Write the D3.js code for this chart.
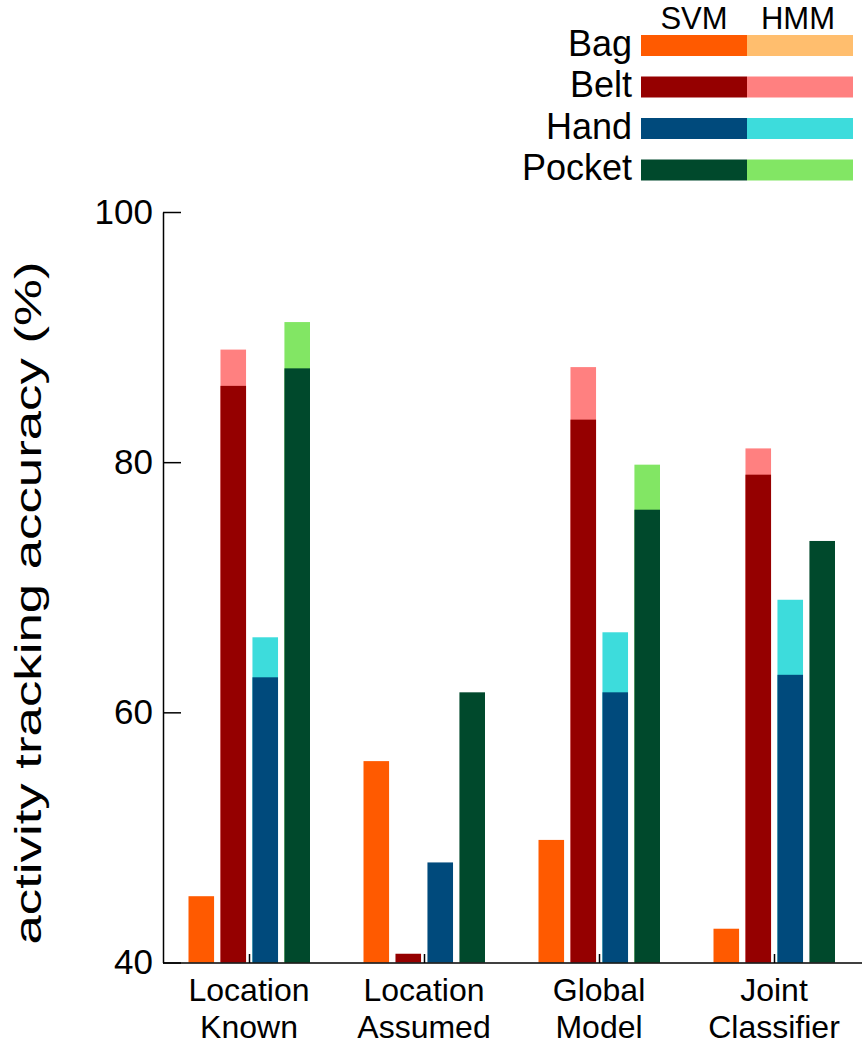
<!doctype html>
<meta charset="utf-8">
<title>activity tracking accuracy</title>
<script src="https://cdn.jsdelivr.net/npm/d3@7"></script>
<style>
  body { margin: 0; background: #fff; }
  svg text { font-family: "Liberation Sans", Arial, sans-serif; fill: #000; }
</style>
<body>
<svg id="chart" width="862" height="1050"></svg>
<script>

// groups along the x axis, split in two lines like the original
var groups = ["Location Known", "Location Assumed", "Global Model", "Joint Classifier"];
var groupLines = [["Location", "Known"], ["Location", "Assumed"], ["Global", "Model"], ["Joint", "Classifier"]];

var locations = ["Bag", "Belt", "Hand", "Pocket"];

// SVM accuracy per location, one value per group
var svmBag    = [45.3, 56.1, 49.8, 42.7];
var svmBelt   = [86.1, 40.7, 83.4, 79.0];
var svmHand   = [62.8, 48.0, 61.6, 63.0];
var svmPocket = [87.5, 61.6, 76.2, 73.7];

// HMM accuracy (null = no HMM bar shown)
var hmmBag    = [null, null, null, null];
var hmmBelt   = [89.0, null, 87.6, 81.1];
var hmmHand   = [66.0, null, 66.4, 69.0];
var hmmPocket = [91.2, null, 79.8, null];

var yTicks = [40, 60, 80, 100];

var svmColor = ["#ff5a00", "#950000", "#004a7c", "#00492c"];
var hmmColor = ["#ffbe6e", "#ff8080", "#3ddcdc", "#82e664"];

var svmBy = [svmBag, svmBelt, svmHand, svmPocket];
var hmmBy = [hmmBag, hmmBelt, hmmHand, hmmPocket];

var svg = d3.select("#chart");

var y = d3.scaleLinear().domain([40, 100]).range([962.5, 212]);
var x = d3.scaleBand().domain(groups).range([161.5, 861.5]);
var xi = d3.scaleBand().domain(locations).range([-60.5, 61]).paddingInner(0.2);

// flatten into bar records
var bars = [];
groups.forEach(function(g, gi) {
  locations.forEach(function(loc, li) {
    bars.push({ group: g, loc: loc, li: li, svm: svmBy[li][gi], hmm: hmmBy[li][gi] });
  });
});

function bx(d) { return x(d.group) + x.bandwidth() / 2 + xi(d.loc); }

var plot = svg.append("g");

// HMM bars first, SVM drawn over them
plot.selectAll("rect.hmm")
  .data(bars.filter(function(d) { return d.hmm != null; }))
  .enter().append("rect")
    .attr("class", "hmm")
    .attr("x", bx)
    .attr("width", xi.bandwidth())
    .attr("y", function(d) { return y(d.hmm); })
    .attr("height", function(d) { return y(40) - y(d.hmm); })
    .attr("fill", function(d) { return hmmColor[d.li]; });

plot.selectAll("rect.svm")
  .data(bars)
  .enter().append("rect")
    .attr("class", "svm")
    .attr("x", bx)
    .attr("width", xi.bandwidth())
    .attr("y", function(d) { return y(d.svm); })
    .attr("height", function(d) { return y(40) - y(d.svm); })
    .attr("fill", function(d) { return svmColor[d.li]; });

// y axis
var yAxis = svg.append("g")
  .attr("transform", "translate(163,0)")
  .call(d3.axisLeft(y).tickValues(yTicks).tickSizeInner(-18).tickSizeOuter(0).tickPadding(10));
yAxis.selectAll("path, line").attr("stroke", "#000").attr("stroke-width", 1.5);
yAxis.selectAll("text").attr("font-size", 35).attr("font-family", "Liberation Sans, Arial, sans-serif");

// x axis line + small center ticks
svg.append("line")
  .attr("x1", 163).attr("x2", 862)
  .attr("y1", 963).attr("y2", 963)
  .attr("stroke", "#000").attr("stroke-width", 1.5);

svg.selectAll("line.xt")
  .data(groups)
  .enter().append("line")
    .attr("class", "xt")
    .attr("x1", function(d) { return x(d) + x.bandwidth() / 2 + 0.5; })
    .attr("x2", function(d) { return x(d) + x.bandwidth() / 2 + 0.5; })
    .attr("y1", 963).attr("y2", 954)
    .attr("stroke", "#000").attr("stroke-width", 1.5);

var xl = svg.selectAll("text.xlab")
  .data(groups)
  .enter().append("text")
    .attr("class", "xlab")
    .attr("text-anchor", "middle")
    .attr("font-size", 32)
    .attr("transform", function(d) { return "translate(" + (x(d) + x.bandwidth() / 2) + ",0)"; });

xl.selectAll("tspan")
  .data(function(d, i) { return groupLines[i]; })
  .enter().append("tspan")
    .attr("x", 0)
    .attr("y", function(d, i) { return 1001 + i * 37; })
    .text(function(d) { return d; });

// y title
svg.append("text")
  .attr("transform", "translate(41,603) rotate(-90)")
  .attr("text-anchor", "middle")
  .attr("font-size", 37)
  .attr("textLength", 683)
  .attr("lengthAdjust", "spacingAndGlyphs")
  .text("activity tracking accuracy (%)");

// legend
var leg = svg.append("g");
var lx0 = 641, lw = 106, lh = 21;

leg.selectAll("text.hdr")
  .data(["SVM", "HMM"])
  .enter().append("text")
    .attr("class", "hdr")
    .attr("x", function(d, i) { return lx0 + lw * i + lw / 2 + (i ? -2 : 0); })
    .attr("y", 29)
    .attr("text-anchor", "middle")
    .attr("font-size", 31)
    .text(function(d) { return d; });

var rows = leg.selectAll("g.row")
  .data(locations)
  .enter().append("g")
    .attr("class", "row")
    .attr("transform", function(d, i) { return "translate(0," + (35 + i * 41.5) + ")"; });

rows.append("rect")
  .attr("x", lx0).attr("width", lw).attr("height", lh)
  .attr("fill", function(d, i) { return svmColor[i]; });
rows.append("rect")
  .attr("x", lx0 + lw).attr("width", lw).attr("height", lh)
  .attr("fill", function(d, i) { return hmmColor[i]; });
rows.append("text")
  .attr("x", 632).attr("y", 20.5)
  .attr("text-anchor", "end")
  .attr("font-size", 36)
  .text(function(d) { return d; });

</script>
</body>
